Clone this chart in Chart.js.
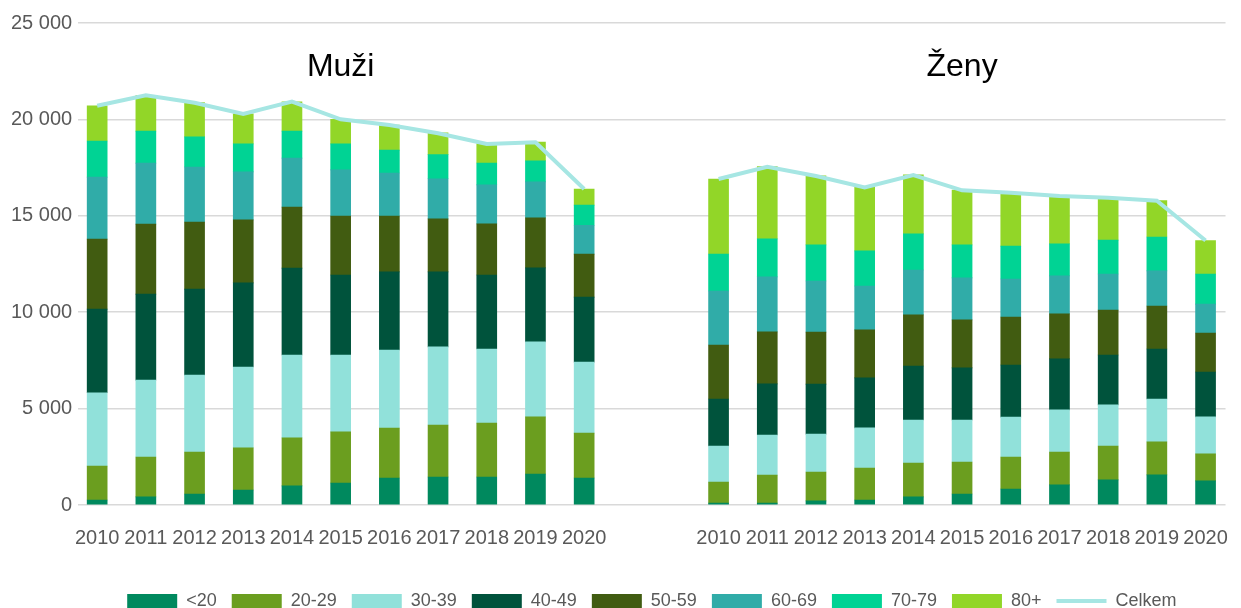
<!DOCTYPE html>
<html>
<head>
<meta charset="utf-8">
<script src="https://cdn.jsdelivr.net/npm/chart.js@4/dist/chart.umd.min.js"></script>
<style>
  html, body { margin: 0; padding: 0; background: #fff; overflow: hidden; }
</style>
</head>
<body>
<canvas id="myChart" width="1241" height="620"></canvas>
<script>
// roky a vekove skupiny
var roky = ["2010", "2011", "2012", "2013", "2014", "2015", "2016", "2017", "2018", "2019", "2020"];
var skupiny = ["<20", "20-29", "30-39", "40-49", "50-59", "60-69", "70-79", "80+"];
var barvy = ['#00895e', '#6b9e1f', '#91e1da', '#00533c', '#415c11', '#30aca8', '#00d394', '#92d628'];

// Muži
var muziDo20 = [260, 420, 570, 780, 990, 1140, 1400, 1450, 1450, 1610, 1400];
var muzi20 = [1760, 2070, 2180, 2180, 2490, 2650, 2590, 2700, 2800, 2960, 2330];
var muzi30 = [3800, 3990, 3990, 4200, 4300, 3990, 4050, 4050, 3840, 3890, 3680];
var muzi40 = [4340, 4460, 4460, 4360, 4510, 4150, 4050, 3890, 3840, 3840, 3370];
var muzi50 = [3630, 3630, 3480, 3270, 3160, 3060, 2900, 2750, 2650, 2590, 2230];
var muzi60 = [3220, 3160, 2850, 2490, 2540, 2390, 2230, 2080, 2020, 1870, 1500];
var muzi70 = [1870, 1660, 1560, 1450, 1400, 1350, 1190, 1250, 1140, 1090, 1040];
var muzi80 = [1830, 1850, 1780, 1560, 1520, 1280, 1300, 1130, 990, 970, 830];
var muziCelkem = [20710, 21250, 20866, 20280, 20920, 20005, 19710, 19280, 18724, 18812, 16390];

// Ženy
var zenyDo20 = [100, 100, 210, 260, 420, 570, 830, 1040, 1300, 1560, 1250];
var zeny20 = [1090, 1450, 1500, 1660, 1760, 1660, 1660, 1710, 1760, 1710, 1400];
var zeny30 = [1870, 2080, 1970, 2080, 2230, 2180, 2070, 2180, 2130, 2230, 1920];
var zeny40 = [2440, 2650, 2590, 2590, 2800, 2700, 2700, 2650, 2590, 2590, 2330];
var zeny50 = [2800, 2700, 2700, 2490, 2650, 2490, 2490, 2330, 2330, 2230, 2020];
var zeny60 = [2800, 2850, 2650, 2280, 2330, 2180, 1970, 1970, 1870, 1820, 1500];
var zeny70 = [1920, 1970, 1870, 1820, 1870, 1710, 1710, 1660, 1760, 1760, 1560];
var zeny80 = [3890, 3750, 3580, 3300, 3060, 2840, 2770, 2490, 2200, 1890, 1740];
var zenyCelkem = [16909, 17547, 17064, 16476, 17116, 16320, 16200, 16027, 15940, 15785, 13720];

var muzi = [muziDo20, muzi20, muzi30, muzi40, muzi50, muzi60, muzi70, muzi80];
var zeny = [zenyDo20, zeny20, zeny30, zeny40, zeny50, zeny60, zeny70, zeny80];

// poloha skupin na ose x (zeny posunute o mezeru)
var posunZeny = 12.76;
var xMuzi = roky.map(function(r, i) { return i; });
var xZeny = roky.map(function(r, i) { return i + posunZeny; });
var xPozice = xMuzi.concat(xZeny);
var xPopisky = roky.concat(roky);

function body(m, z) {
    var a = m.map(function(v, i) { return { x: xMuzi[i], y: v }; });
    var b = z.map(function(v, i) { return { x: xZeny[i], y: v }; });
    return a.concat([{ x: 11.4, y: null }], b);
}

var font = '"Liberation Sans", Arial, sans-serif';

var datasets = skupiny.map(function(nazev, i) {
    return {
        type: 'bar',
        label: nazev,
        data: body(muzi[i], zeny[i]),
        backgroundColor: barvy[i],
        borderWidth: 0,
        barThickness: 20,
        order: 1
    };
});
datasets.push({
    type: 'line',
    label: 'Celkem',
    data: body(muziCelkem, zenyCelkem),
    borderColor: '#a6e6e3',
    backgroundColor: '#a6e6e3',
    borderWidth: 4,
    pointRadius: 0,
    tension: 0,
    spanGaps: false,
    order: 0
});

var nadpisy = {
    id: 'nadpisy',
    afterDatasetsDraw: function(chart) {
        var ctx = chart.ctx, x = chart.scales.x;
        ctx.save();
        ctx.font = '32px ' + font;
        ctx.fillStyle = '#000';
        ctx.textAlign = 'center';
        ctx.textBaseline = 'alphabetic';
        ctx.fillText('Muži', x.getPixelForValue(5), 76);
        ctx.fillText('Ženy', x.getPixelForValue(5 + posunZeny), 76);
        ctx.restore();
    }
};

var ctx = document.getElementById('myChart').getContext('2d');
var chart = new Chart(ctx, {
    data: { datasets: datasets },
    plugins: [nadpisy],
    options: {
        responsive: false,
        animation: false,
        layout: { padding: { left: 5, right: 11, top: 23, bottom: 0 } },
        scales: {
            x: {
                type: 'linear',
                stacked: true,
                offset: false,
                min: -0.39, max: 23.17,
                grid: { display: false, offset: false },
                border: { display: false },
                afterBuildTicks: function(axis) {
                    axis.ticks = xPozice.map(function(v) { return { value: v }; });
                },
                afterFit: function(scale) { scale.height += 14; },
                ticks: {
                    autoSkip: false, maxRotation: 0, minRotation: 0,
                    padding: 13, color: '#595959',
                    font: { family: font, size: 20 },
                    callback: function(value, index) { return xPopisky[index]; }
                }
            },
            y: {
                stacked: true,
                min: 0, max: 25000,
                grid: { color: '#d9d9d9', lineWidth: 1.5, drawTicks: false },
                border: { display: false },
                ticks: {
                    stepSize: 5000, padding: 6, color: '#595959',
                    font: { family: font, size: 20 },
                    callback: function(v) { return String(v).replace(/\B(?=(\d{3})+(?!\d))/g, ' '); }
                }
            }
        },
        plugins: {
            tooltip: { enabled: false },
            legend: {
                position: 'bottom',
                fullSize: false,
                labels: {
                    color: '#595959',
                    font: { family: font, size: 18 },
                    usePointStyle: true,
                    pointStyleWidth: 50,
                    boxHeight: 14,
                    padding: 15,
                    sort: function(a, b) { return a.datasetIndex - b.datasetIndex; },
                    generateLabels: function(chart) {
                        var items = Chart.defaults.plugins.legend.labels.generateLabels(chart);
                        items.forEach(function(it) {
                            it.pointStyle = it.text === 'Celkem' ? 'line' : 'rect';
                        });
                        return items;
                    }
                }
            }
        }
    }
});
</script>
</body>
</html>
